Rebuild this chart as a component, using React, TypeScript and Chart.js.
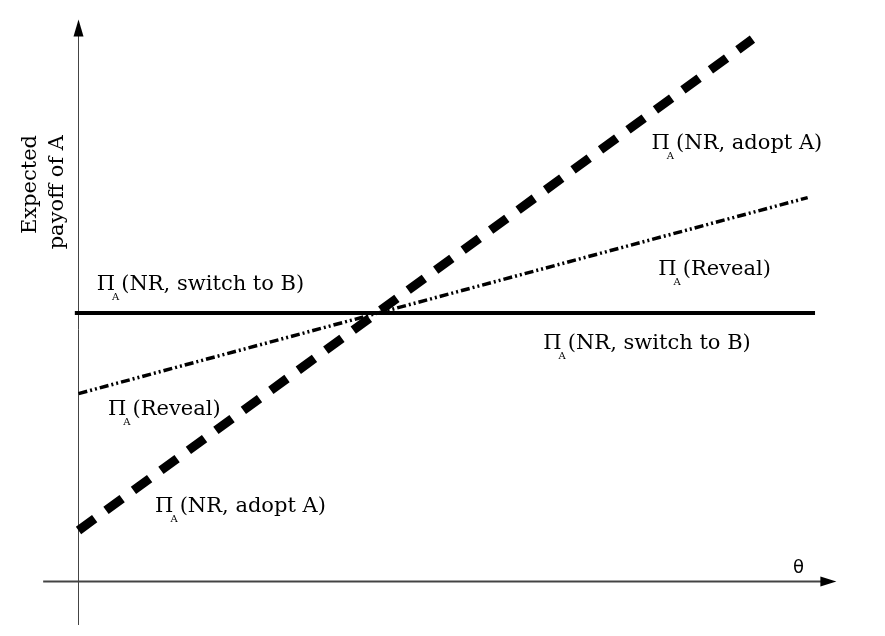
import React, { useEffect, useRef } from "react";
import { Chart, registerables } from "chart.js";

Chart.register(...registerables);

// Data (theta on x, expected payoff of A on y)
const switchToB = [
  { x: -0.05, y: 10 },
  { x: 10, y: 10 },
];
const adoptA = [
  { x: 0, y: 1.9 },
  { x: 9.15, y: 20.2 },
];
const reveal = [
  { x: 0, y: 7 },
  { x: 9.9, y: 14.3 },
];

// Axis extents (data units)
const xAxisRange = [-0.48, 10.29];
const yAxisRange = [-1.62, 20.93];

// Line labels: text, anchor (theta, payoff)
const labelTexts = [
  "(NR, switch to B)",
  "(NR, adopt A)",
  "(Reveal)",
  "(NR, switch to B)",
  "(Reveal)",
  "(NR, adopt A)",
];
const labelTheta = [0.247, 7.78, 7.87, 6.31, 0.4, 1.04];
const labelPayoff = [10.86, 16.11, 11.42, 8.65, 6.2, 2.6];

const yTitleLines = ["Expected", "payoff of A"];
const xTitle = "θ";

const SERIF = '"DejaVu Serif", serif';

const drawPlugin = {
  id: "econDiagram",
  beforeDatasetsDraw(chart: any) {
    const { ctx, scales } = chart;
    const xs = scales.x;
    const ys = scales.y;
    const ox = xs.getPixelForValue(0);
    const oy = ys.getPixelForValue(0);
    ctx.save();
    // y axis
    ctx.strokeStyle = "#444";
    ctx.lineWidth = 1;
    const yTop = ys.getPixelForValue(yAxisRange[1]);
    const yBot = ys.getPixelForValue(yAxisRange[0]);
    ctx.beginPath();
    ctx.moveTo(ox, yBot);
    ctx.lineTo(ox, yTop + 14);
    ctx.stroke();
    ctx.fillStyle = "#000";
    ctx.beginPath();
    ctx.moveTo(ox, yTop);
    ctx.lineTo(ox - 5, yTop + 17);
    ctx.lineTo(ox + 5, yTop + 17);
    ctx.closePath();
    ctx.fill();
    // x axis
    const xL = xs.getPixelForValue(xAxisRange[0]);
    const xR = xs.getPixelForValue(xAxisRange[1]);
    ctx.strokeStyle = "#444";
    ctx.lineWidth = 2;
    ctx.beginPath();
    ctx.moveTo(xL, oy);
    ctx.lineTo(xR - 14, oy);
    ctx.stroke();
    ctx.fillStyle = "#000";
    ctx.beginPath();
    ctx.moveTo(xR, oy);
    ctx.lineTo(xR - 16, oy - 5);
    ctx.lineTo(xR - 16, oy + 5);
    ctx.closePath();
    ctx.fill();
    ctx.restore();
  },
  afterDatasetsDraw(chart: any) {
    const { ctx, scales } = chart;
    const xs = scales.x;
    const ys = scales.y;
    ctx.save();
    ctx.fillStyle = "#000";
    ctx.textBaseline = "alphabetic";
    ctx.textAlign = "left";
    for (let i = 0; i < labelTexts.length; i++) {
      const px = xs.getPixelForValue(labelTheta[i]);
      const py = ys.getPixelForValue(labelPayoff[i]);
      ctx.font = `21px ${SERIF}`;
      ctx.fillText("Π", px, py);
      const pw = ctx.measureText("Π").width;
      ctx.font = `10px ${SERIF}`;
      ctx.fillText("A", px + pw - 3, py + 10);
      const aw = ctx.measureText("A").width;
      ctx.font = `21px ${SERIF}`;
      ctx.fillText(labelTexts[i], px + pw + aw - 1, py);
    }
    // y title (rotated)
    const ox = xs.getPixelForValue(0);
    ctx.save();
    ctx.translate(ox - 43, 135);
    ctx.rotate(-Math.PI / 2);
    ctx.font = `21px ${SERIF}`;
    ctx.textAlign = "right";
    ctx.fillText(yTitleLines[0], 0, 0);
    ctx.fillText(yTitleLines[1], 0, 27);
    ctx.restore();
    // x title
    const xR = xs.getPixelForValue(xAxisRange[1]);
    const oy = ys.getPixelForValue(0);
    ctx.font = '18px "DejaVu Sans", sans-serif';
    ctx.textAlign = "center";
    ctx.fillText(xTitle, xR - 38, oy - 9);
    ctx.restore();
  },
};

export default function App() {
  const ref = useRef<HTMLCanvasElement | null>(null);
  useEffect(() => {
    if (!ref.current) return;
    const chart = new Chart(ref.current, {
      type: "line",
      data: {
        datasets: [
          {
            label: "Π_A (NR, switch to B)",
            data: switchToB,
            borderColor: "#000",
            borderWidth: 4,
            pointRadius: 0,
            borderCapStyle: "butt",
          },
          {
            label: "Π_A (NR, adopt A)",
            data: adoptA,
            borderColor: "#000",
            borderWidth: 9,
            borderDash: [20, 14],
            pointRadius: 0,
            borderCapStyle: "butt",
          },
          {
            label: "Π_A (Reveal)",
            data: reveal,
            borderColor: "#000",
            borderWidth: 3.5,
            borderDash: [9, 3, 2, 3, 2, 3],
            pointRadius: 0,
            borderCapStyle: "butt",
          },
        ],
      },
      options: {
        animation: false,
        responsive: false,
        maintainAspectRatio: false,
        layout: { padding: 0 },
        plugins: {
          legend: { display: false },
          tooltip: { enabled: false },
          title: { display: false },
        },
        scales: {
          x: { type: "linear", min: -1.066, max: 10.95, display: false },
          y: { type: "linear", min: -2.03, max: 21.66, display: false },
        },
      },
      plugins: [drawPlugin],
    });
    return () => chart.destroy();
  }, []);
  return (
    <div style={{ position: "absolute", left: 0, top: 0, width: 885, height: 636, background: "#fff" }}>
      <canvas ref={ref} width={885} height={636} />
    </div>
  );
}
